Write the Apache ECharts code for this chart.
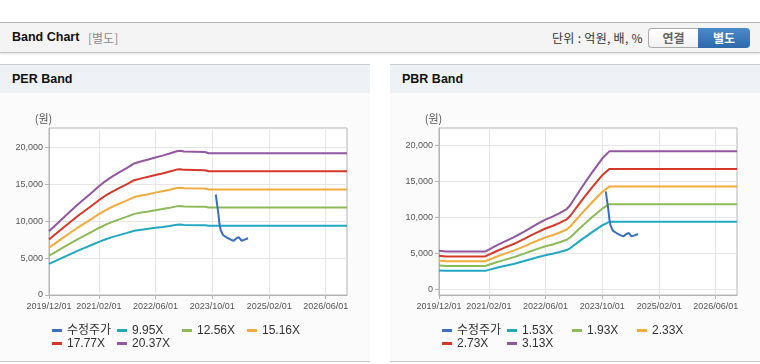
<!DOCTYPE html>
<html><head><meta charset="utf-8">
<script src="https://cdn.jsdelivr.net/npm/echarts@6/dist/echarts.min.js"></script>
<style>
html,body{margin:0;padding:0;width:760px;height:364px;overflow:hidden;background:#fff;font-family:'Liberation Sans','Noto Sans CJK KR',sans-serif;}
.abs{position:absolute;}
#hdr{left:0;top:22px;width:760px;height:29px;background:#f4f4f4;border-top:1px solid #b4b4b4;border-bottom:1px solid #c4c4c4;box-shadow:0 1px 2px rgba(0,0,0,0.12);}
#hdrTitle{left:12px;top:0;line-height:29px;font-size:12.5px;font-weight:bold;color:#111;}
#hdrSub{left:88px;top:0;line-height:29px;font-size:12px;color:#8a8a8a;font-family:'Noto Sans CJK KR',sans-serif;}
#unit{left:552px;top:0;line-height:29px;font-size:12px;color:#333;font-family:'Noto Sans CJK KR',sans-serif;letter-spacing:0.3px;}
.btn{top:5px;height:18px;line-height:18px;text-align:center;font-size:12px;font-weight:bold;font-family:'Noto Sans CJK KR',sans-serif;}
#b1{left:648px;width:49px;background:linear-gradient(#ffffff,#f1f1f1);border:1px solid #aaa;border-right:none;border-radius:4px 0 0 4px;color:#666;}
#b2{left:698px;width:52px;height:20px;line-height:20px;top:5px;background:linear-gradient(#4a8acb,#2e69a9);border-radius:0 4px 4px 0;color:#fff;}
.ptitle{top:64px;width:370px;height:28px;background:#eef2f7;border-top:1px solid #cdd0d4;font-size:12.5px;font-weight:bold;color:#111;line-height:29px;}
.pbody{top:93px;width:370px;height:268px;background:#fbfbfb;border-bottom:1px solid #c8c8c8;}
#chart{left:0;top:0;width:760px;height:364px;z-index:2;}
</style></head>
<body>
<div id="hdr" class="abs">
  <div id="hdrTitle" class="abs">Band Chart</div>
  <div id="hdrSub" class="abs">[별도]</div>
  <div id="unit" class="abs">단위 : 억원, 배, %</div>
  <div id="b1" class="abs btn">연결</div>
  <div id="b2" class="abs btn">별도</div>
</div>
<div class="abs ptitle" style="left:0;"><span style="padding-left:12px;">PER Band</span></div>
<div class="abs pbody" style="left:0;"></div>
<div class="abs ptitle" style="left:390px;"><span style="padding-left:12px;">PBR Band</span></div>
<div class="abs pbody" style="left:390px;"></div>
<div id="chart" class="abs"></div>
<script>
// ---- tick labels ----
const tickDates = ['2019/12/01','2021/02/01','2022/06/01','2023/10/01','2025/02/01','2026/06/01'];
const yTicks = [0, 5000, 10000, 15000, 20000];
const xStart = '2019/12/01', xEnd = '2026/12/01';

// ---- PER band data ----
const perNames = ['9.95X','12.56X','15.16X','17.77X','20.37X'];
const perDates = ['2019/12/01','2020/02/01','2020/04/01','2020/06/01','2020/08/01','2020/10/01','2020/12/01','2021/02/01','2021/04/01','2021/06/01','2021/08/01','2021/10/01','2021/12/01','2022/02/01','2022/04/01','2022/06/01','2022/08/01','2022/10/01','2022/12/01','2023/01/01','2023/02/01','2023/08/01','2023/09/01','2026/12/01'];
const per995  = [4209,4657,5094,5532,5970,6368,6766,7184,7542,7861,8139,8408,8696,8836,8955,9094,9214,9353,9502,9532,9482,9453,9373,9373];
const per1256 = [5313,5878,6431,6983,7536,8038,8541,9068,9520,9922,10274,10613,10977,11153,11304,11480,11631,11806,11995,12032,11970,11932,11832,11832];
const per1516 = [6413,7095,7762,8429,9096,9702,10309,10946,11491,11976,12401,12810,13250,13462,13644,13856,14038,14250,14478,14523,14447,14402,14281,14281];
const per1777 = [7517,8316,9098,9880,10662,11373,12084,12830,13470,14038,14536,15016,15531,15780,15993,16242,16455,16704,16970,17024,16935,16882,16739,16739];
const per2037 = [8617,9533,10429,11326,12222,13037,13852,14707,15440,16092,16663,17213,17803,18089,18333,18618,18863,19148,19453,19514,19413,19352,19189,19189];

// ---- PBR band data ----
const pbrNames = ['1.53X','1.93X','2.33X','2.73X','3.13X'];
const pbrDates = ['2019/12/01','2020/02/01','2021/01/01','2021/02/01','2021/04/01','2021/06/01','2021/09/01','2021/12/01','2022/02/01','2022/04/01','2022/06/01','2022/08/01','2022/10/01','2022/12/01','2023/01/01','2023/04/01','2023/07/01','2023/10/01','2023/12/01','2026/12/01'];
const pbr153 = [2616,2555,2555,2693,2938,3182,3519,3917,4208,4468,4728,4927,5171,5447,5722,6824,7864,8874,9364,9364];
const pbr193 = [3300,3223,3223,3397,3706,4014,4439,4941,5308,5636,5964,6215,6523,6871,7218,8608,9920,11194,11812,11812];
const pbr233 = [3984,3891,3891,4101,4474,4846,5359,5965,6408,6804,7200,7503,7875,8295,8714,10392,11976,13514,14260,14260];
const pbr273 = [4668,4559,4559,4805,5242,5678,6279,6989,7508,7972,8436,8791,9227,9719,10210,12176,14032,15834,16708,16708];
const pbr313 = [5352,5227,5227,5509,6010,6510,7199,8013,8608,9140,9672,10079,10579,11143,11706,13960,16088,18154,19156,19156];

// ---- adjusted price (수정주가) ----
const priceName = '수정주가';
const priceDates = ['2023/11/01','2023/11/11','2023/11/23','2023/12/02','2023/12/13','2024/01/02','2024/02/01','2024/03/13','2024/04/03','2024/04/26','2024/05/18','2024/06/08','2024/06/30','2024/08/04'];
const price = [13600,12410,11060,9710,8800,8120,7810,7450,7350,7680,7810,7350,7450,7680];

const bandColors = ['#22a7c3','#8dba58','#f3aa3c','#d5382b','#9356a0'];
const priceColor = '#3a6fbf';

function toTime(s){ const p = s.split('/'); return new Date(+p[0], +p[1]-1, +p[2]).getTime(); }
const tickTimes = tickDates.map(toTime);
const FONT = "'Liberation Sans','Noto Sans CJK KR',sans-serif";
const axisColor = '#b4b4b4', gridColor = '#e6e6e6', labelColor = '#555';

function xAxisCfg(gi){
  return {
    type:'value', gridIndex:gi, min:toTime(xStart), max:toTime(xEnd), scale:true,
    axisLine:{show:true, onZero:false, lineStyle:{color:axisColor}},
    axisTick:{show:true, customValues:tickTimes, length:4, lineStyle:{color:axisColor}},
    axisLabel:{customValues:tickTimes, formatter:function(v){ const i = tickTimes.indexOf(v); return i >= 0 ? tickDates[i] : ''; },
      fontSize:9, color:labelColor, margin:7, fontFamily:FONT, hideOverlap:false},
    splitLine:{show:true, lineStyle:{color:gridColor}}
  };
}
function yAxisCfg(gi, min, max){
  return {
    type:'value', gridIndex:gi, min:min, max:max, name:'(원)', nameLocation:'end', nameGap:4,
    nameTextStyle:{color:labelColor, fontSize:11, padding:[0,11,0,0], fontFamily:"'Noto Sans CJK KR',sans-serif"},
    axisLine:{show:true, lineStyle:{color:axisColor}},
    axisTick:{show:true, customValues:yTicks, length:4, lineStyle:{color:axisColor}},
    axisLabel:{customValues:yTicks, formatter:function(v){ return echarts.format.addCommas(v); },
      fontSize:9, color:labelColor, margin:6, fontFamily:FONT},
    splitLine:{show:true, lineStyle:{color:gridColor}}
  };
}
function line(name, dates, vals, color, idx, z){
  return {
    name:name, type:'line', xAxisIndex:idx, yAxisIndex:idx,
    data:dates.map(function(d,i){ return [toTime(d), vals[i]]; }),
    showSymbol:false, symbol:'none', silent:true, z:z,
    lineStyle:{width:2, color:color}, itemStyle:{color:color}
  };
}
function legendCfg(left, names){
  return {
    data:[priceName].concat(names), left:left, top:324, width:262, orient:'horizontal', padding:0,
    icon:'rect', itemWidth:10, itemHeight:3, itemGap:0, selectedMode:false,
    textStyle:{fontSize:12, color:'#333', width:50, lineHeight:13, fontFamily:FONT}
  };
}

const perVals = [per995, per1256, per1516, per1777, per2037];
const pbrVals = [pbr153, pbr193, pbr233, pbr273, pbr313];
const series = [];
perVals.forEach(function(v,i){ series.push(line(perNames[i], perDates, v, bandColors[i], 0, 2)); });
series.push(line(priceName, priceDates, price, priceColor, 0, 3));
pbrVals.forEach(function(v,i){ series.push(line(pbrNames[i], pbrDates, v, bandColors[i], 1, 2)); });
series.push(line(priceName, priceDates, price, priceColor, 1, 3));

const chart = echarts.init(document.getElementById('chart'));
chart.setOption({
  animation:false,
  grid:[
    {left:49, top:128, width:298, height:167, show:true, borderColor:axisColor, borderWidth:1, backgroundColor:'#fff'},
    {left:439, top:128, width:298, height:167, show:true, borderColor:axisColor, borderWidth:1, backgroundColor:'#fff'}
  ],
  xAxis:[xAxisCfg(0), xAxisCfg(1)],
  yAxis:[yAxisCfg(0, 0, 22600), yAxisCfg(1, -800, 22400)],
  legend:[legendCfg(52, perNames), legendCfg(442, pbrNames)],
  series:series
});
</script>
</body></html>
